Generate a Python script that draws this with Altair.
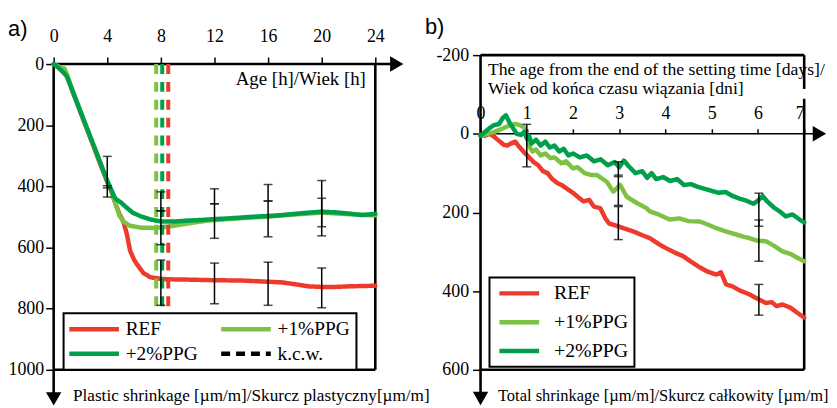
import altair as alt
import pandas as pd

# ---------------- names / colours ----------------
SERIES = ["REF", "+1%PPG", "+2%PPG"]
KCW = "k.c.w."
COLOR_OF = {"REF": "#EE3A2C", "+1%PPG": "#7DC243", "+2%PPG": "#00A04B", KCW: "black"}

# ---------------- panel a : plastic shrinkage vs age [h] ----------------
A_REF_H = [0, 0.5, 1.0, 1.5, 2.0, 2.5, 3.0, 3.5, 4.0, 4.3, 4.6, 4.9, 5.2, 5.46, 5.7, 6.0, 6.2, 6.69, 7.19, 7.9,
           8.5, 10, 12, 14, 16, 17, 18, 19, 20, 21, 22, 23, 24]
A_REF_V = [0, 15, 40, 100, 158, 215, 272, 330, 386, 415, 455, 490, 515, 556, 610, 640, 654, 683, 697, 702,
           704, 705, 707, 708, 712, 714, 720, 727, 729, 729, 727, 726, 725]
A_P1_H = [0, 0.3, 0.55, 0.8, 1.0, 1.5, 2.0, 2.5, 3.0, 3.5, 4.0, 4.3, 4.6, 4.9, 5.2, 5.7, 6.5, 7.5, 8.5, 9.5,
          10.5, 11.5, 13, 14, 16, 18, 20, 22, 24]
A_P1_V = [0, 6, 12, 14, 35, 98, 155, 212, 268, 325, 382, 412, 455, 495, 515, 529, 535, 536, 532, 525,
          518, 512, 507, 504, 499, 492, 486, 491, 495]
A_P2_H = [0, 0.2, 0.5, 0.8, 1.0, 1.5, 2.0, 2.5, 3.0, 3.5, 4.0, 4.3, 4.6, 5.0, 5.4, 5.9, 6.5, 7.2, 8.0, 9.0,
          10, 11, 12, 13, 14, 15, 16, 17, 18, 19, 20, 21, 22, 23, 24]
A_P2_V = [0, 6, 18, 30, 42, 98, 155, 212, 268, 325, 382, 412, 440, 452, 468, 486, 498, 508, 515, 515,
          512, 510, 507, 505, 502, 499, 497, 494, 490, 486, 483, 485, 489, 494, 490]
A_KCW_SERIES = ["+1%PPG", "+2%PPG", "REF"]
A_KCW_H = [7.65, 8.1, 8.55]
A_KCW_END = 795
A_ERR_H = [4, 4, 8, 8, 8, 12, 12, 12, 16, 16, 16, 20, 20, 20]
A_ERR_LO = [302, 398, 418, 480, 641, 408, 457, 651, 394, 448, 648, 381, 439, 667]
A_ERR_HI = [405, 435, 480, 591, 789, 457, 570, 784, 448, 565, 789, 532, 562, 797]
A_XTICKS = [0, 4, 8, 12, 16, 20, 24]
A_YTICKS = [0, 200, 400, 600, 800, 1000]
A_XMAX, A_YMAX = 24, 1000
A_XARROW, A_YARROW = 25.6, 1095

# ---------------- panel b : total shrinkage vs days ----------------
B_REF_D = [0, 0.1, 0.2, 0.3, 0.4, 0.5, 0.58, 0.65, 0.75, 0.85, 0.95, 1.05, 1.15, 1.25, 1.35, 1.45, 1.55, 1.66,
           1.75, 1.85, 2.0, 2.1, 2.23, 2.35, 2.45, 2.59, 2.7, 2.78, 2.9, 3.09, 3.3, 3.5, 3.66, 3.85, 4.0, 4.2,
           4.38, 4.55, 4.75, 4.9, 5.1, 5.2, 5.31, 5.45, 5.6, 5.81, 6.0, 6.17, 6.3, 6.4, 6.53, 6.7, 6.85, 7.0]
B_REF_V = [3, 5, 0, 8, 18, 28, 30, 25, 20, 35, 48, 60, 72, 80, 95, 100, 115, 125,
           130, 138, 150, 160, 172, 168, 185, 189, 215, 228, 232, 240, 248, 258, 265, 280, 290, 302,
           311, 325, 340, 350, 358, 352, 383, 388, 398, 408, 420, 430, 428, 438, 434, 442, 455, 467]
B_P1_D = [0, 0.15, 0.3, 0.45, 0.6, 0.75, 0.85, 0.95, 1.0, 1.05, 1.12, 1.2, 1.3, 1.4, 1.51, 1.6, 1.75, 1.85,
          2.0, 2.1, 2.25, 2.4, 2.52, 2.73, 2.87, 3.02, 3.16, 3.38, 3.59, 3.66, 3.85, 4.09, 4.3, 4.5, 4.74,
          4.9, 5.1, 5.3, 5.53, 5.7, 5.81, 6.0, 6.17, 6.35, 6.53, 6.7, 6.85, 7.0]
B_P1_V = [5, 0, -5, -12, -20, -25, -22, -15, 5, 30, 45, 40, 55, 50, 62, 60, 75, 70,
          88, 85, 100, 105, 105, 122, 147, 130, 160, 176, 189, 197, 205, 218, 215, 222, 223,
          230, 240, 248, 256, 262, 265, 272, 273, 285, 299, 305, 315, 324]
B_P2_D = [0, 0.1, 0.2, 0.29, 0.4, 0.48, 0.55, 0.62, 0.7, 0.78, 0.87, 0.95, 1.0, 1.05, 1.1, 1.2, 1.3, 1.4,
          1.5, 1.6, 1.7, 1.8, 1.9, 2.0, 2.15, 2.3, 2.45, 2.6, 2.75, 2.9, 3.0, 3.1, 3.2, 3.35, 3.5, 3.6,
          3.7, 3.8, 3.95, 4.1, 4.25, 4.4, 4.55, 4.7, 4.85, 5.0, 5.15, 5.3, 5.45, 5.6, 5.75, 5.9, 6.0,
          6.1, 6.2, 6.35, 6.5, 6.6, 6.75, 6.9, 7.0]
B_P2_V = [5, -5, -15, -22, -25, -40, -47, -30, -15, 0, 3, -5, 12, 5, 25, 15, 30, 20,
          35, 30, 45, 38, 55, 50, 60, 55, 70, 65, 80, 72, 85, 68, 82, 100, 95, 112,
          100, 115, 110, 120, 115, 130, 128, 135, 140, 145, 150, 148, 158, 165, 170, 178, 170,
          158, 172, 188, 200, 210, 205, 218, 225]
B_ERR_D = [1.0, 2.98, 2.98, 2.98, 6.02, 6.02, 6.02]
B_ERR_LO = [-24, 71, 105, 185, 151, 219, 383]
B_ERR_HI = [84, 109, 182, 269, 235, 324, 461]
B_XTICKS = [0, 1, 2, 3, 4, 5, 6, 7]
B_YTICKS = [-200, 0, 200, 400, 600]
B_XMAX, B_YMIN, B_YMAX = 7, -200, 600
B_XARROW, B_YARROW = 7.33, 673

# ---------------- layout constants ----------------
H = 317
A_W, B_W = 324, 326
A_YTOP = -29.2          # value at the top edge of panel a's view
SERIF = "Liberation Serif"


def curves(hs, vs, names):
    rows = []
    for h, v, n in zip(hs, vs, names):
        for a, b in zip(h, v):
            rows.append({"x": a, "y": b, "series": n})
    df = pd.DataFrame(rows)
    df["order"] = df.index
    return df


def errs(xs, lo, hi):
    bars = pd.DataFrame({"x": xs, "y": lo, "y2": hi})
    caps = pd.DataFrame({"x": xs + xs, "y": lo + hi})
    return bars, caps


def build_panel(xenc, yenc, color, dash, frame_df, thin_df, curve_df, kcw_df,
                bars_df, caps_df, arrows_df):
    layers = []
    layers.append(alt.Chart(frame_df).mark_rule(color="black", strokeWidth=2.6).encode(
        x=xenc, x2="x2:Q", y=yenc, y2="y2:Q"))
    if thin_df is not None:
        layers.append(alt.Chart(thin_df).mark_rule(color="black", strokeWidth=1.5).encode(
            x=xenc, x2="x2:Q", y=yenc, y2="y2:Q"))
    for s in SERIES:
        enc = dict(x=xenc, y=yenc, color=color, order="order:Q")
        if dash is not None:
            enc["strokeDash"] = dash
        layers.append(alt.Chart(curve_df[curve_df.series == s]).mark_line(
            strokeWidth=4.5, strokeJoin="round", strokeCap="round").encode(**enc))
    if kcw_df is not None:
        layers.append(alt.Chart(kcw_df).mark_rule(strokeWidth=4, strokeDash=[10, 8]).encode(
            x=xenc, y=yenc, y2="y2:Q", color=color))
    layers.append(alt.Chart(bars_df).mark_rule(color="black", strokeWidth=1.5).encode(
        x=xenc, y=yenc, y2="y2:Q"))
    layers.append(alt.Chart(caps_df).mark_tick(color="black", orient="horizontal", size=9,
                                               thickness=1.5).encode(x=xenc, y=yenc))
    for shape, sub in arrows_df.groupby("shape"):
        layers.append(alt.Chart(sub).mark_point(shape=shape, filled=True, color="black",
                                                opacity=1, size=240).encode(x=xenc, y=yenc))
    return alt.layer(*layers)


# ---------------- panel a ----------------
a_curves = curves([A_REF_H, A_P1_H, A_P2_H], [A_REF_V, A_P1_V, A_P2_V], SERIES)
a_kcw = pd.DataFrame({"x": A_KCW_H, "y": [0] * 3, "y2": [A_KCW_END] * 3, "series": A_KCW_SERIES})
a_bars, a_caps = errs(A_ERR_H, A_ERR_LO, A_ERR_HI)
a_frame = pd.DataFrame({
    "x": [0, 0, A_XMAX, 0], "x2": [0, A_XARROW, A_XMAX, A_XMAX],
    "y": [0, 0, 0, A_YMAX], "y2": [A_YARROW, 0, A_YMAX, A_YMAX]})
a_arrows = pd.DataFrame({"x": [A_XARROW, 0], "y": [0, A_YARROW],
                         "shape": ["triangle-right", "triangle-down"]})

a_off = -(0 - A_YTOP) / (A_YMAX - A_YTOP) * H

a_x = alt.X("x:Q", scale=alt.Scale(domain=[0, A_XMAX], nice=False, zero=False),
            axis=alt.Axis(orient="top", values=A_XTICKS, offset=a_off, domain=False, grid=False,
                          tickSize=7, tickWidth=1.5, tickColor="black", labelPadding=12,
                          labelFont=SERIF, labelFontSize=18, labelColor="black", labelOverlap=False,
                          labelFlush=False, format="d", title="Age [h]/Wiek [h]", titleX=314,
                          titleY=21, titleAlign="right", titleBaseline="alphabetic", titleAngle=0,
                          titleFont=SERIF, titleFontSize=19, titleFontWeight="normal",
                          titleColor="black"))
a_y = alt.Y("y:Q", scale=alt.Scale(domain=[A_YTOP, A_YMAX], reverse=True, nice=False, zero=False),
            axis=alt.Axis(orient="left", values=A_YTICKS, domain=False, grid=False, tickSize=8,
                          tickWidth=1.5, tickColor="black", labelPadding=2, labelFont=SERIF,
                          labelFontSize=18, labelColor="black", labelOverlap=False, labelFlush=False,
                          format="d",
                          title="Plastic shrinkage [µm/m]/Skurcz plastyczny[µm/m]",
                          titleX=19, titleY=348, titleAngle=0, titleAlign="left",
                          titleBaseline="alphabetic", titleFont=SERIF, titleFontSize=17.3,
                          titleFontWeight="normal", titleColor="black"))
a_legend = alt.Legend(title=None, orient="none", legendX=10, legendY=260, columns=2,
                      symbolType="M-5,0L5,0", symbolSize=100, symbolStrokeWidth=4.5,
                      symbolOffset=15, labelOffset=22, columnPadding=13, rowPadding=4,
                      padding=6, fillColor="white", strokeColor="black", labelFont=SERIF,
                      labelFontSize=19.5, labelColor="black", labelLimit=300)
# legend fills column by column: REF / +2%PPG  |  +1%PPG / k.c.w.
a_dom = ["REF", "+2%PPG", "+1%PPG", KCW]
a_color = alt.Color("series:N", scale=alt.Scale(domain=a_dom, range=[COLOR_OF[d] for d in a_dom]),
                    legend=a_legend)
a_dash = alt.StrokeDash("series:N",
                        scale=alt.Scale(domain=a_dom, range=[[1, 0], [1, 0], [1, 0], [9, 6]]),
                        legend=a_legend)

panel_a = build_panel(a_x, a_y, a_color, a_dash, a_frame, None, a_curves, a_kcw,
                      a_bars, a_caps, a_arrows).properties(
    width=A_W, height=H,
    title=alt.TitleParams("a)", anchor="start", frame="group", dx=-46, dy=14, offset=0,
                          font="Liberation Sans", fontSize=22, fontWeight="normal", color="black"))

# ---------------- panel b ----------------
b_curves = curves([B_REF_D, B_P1_D, B_P2_D], [B_REF_V, B_P1_V, B_P2_V], SERIES)
b_bars, b_caps = errs(B_ERR_D, B_ERR_LO, B_ERR_HI)
b_frame = pd.DataFrame({
    "x": [0, 0, B_XMAX, B_XMAX, 0], "x2": [0, B_XMAX, B_XMAX, B_XMAX, B_XMAX],
    "y": [B_YMIN, B_YMIN, B_YMIN, -89, B_YMAX], "y2": [B_YARROW, B_YMIN, -114, B_YMAX, B_YMAX]})
b_thin = pd.DataFrame({"x": [0], "x2": [B_XARROW], "y": [0], "y2": [0]})
b_arrows = pd.DataFrame({"x": [B_XARROW, 0], "y": [0, B_YARROW],
                         "shape": ["triangle-right", "triangle-down"]})
b_off = -(0 - B_YMIN) / (B_YMAX - B_YMIN) * H

b_x = alt.X("x:Q", scale=alt.Scale(domain=[0, B_XMAX], nice=False, zero=False),
            axis=alt.Axis(orient="top", values=B_XTICKS, offset=b_off, domain=False, grid=False,
                          tickSize=5, tickWidth=1.5, tickColor="black", labelPadding=6,
                          labelFont=SERIF, labelFontSize=18, labelColor="black", labelOverlap=False,
                          labelFlush=False,
                          labelAlign=alt.condition("datum.value == 7", alt.value("right"),
                                                   alt.value("center")),
                          labelExpr="datum.value == 7 ? '7\u00a0' : datum.label",
                          title=["The age from the end of the setting time [days]/",
                                 "Wiek od końca czasu wiązania [dni]"],
                          titleX=7, titleY=-60, titleAlign="left", titleBaseline="alphabetic",
                          titleAngle=0, titleLineHeight=19, titleFont=SERIF, titleFontSize=17.8,
                          titleFontWeight="normal", titleColor="black"))
b_y = alt.Y("y:Q", scale=alt.Scale(domain=[B_YMIN, B_YMAX], reverse=True, nice=False, zero=False),
            axis=alt.Axis(orient="left", values=B_YTICKS, domain=False, grid=False, tickSize=8,
                          tickWidth=1.5, tickColor="black", labelPadding=4, labelFont=SERIF,
                          labelFontSize=18, labelColor="black", labelOverlap=False, labelFlush=False,
                          labelExpr="'' + datum.value",
                          title="Total shrinkage [µm/m]/Skurcz całkowity [µm/m]",
                          titleX=17, titleY=348, titleAngle=0, titleAlign="left",
                          titleBaseline="alphabetic", titleFont=SERIF, titleFontSize=16.6,
                          titleFontWeight="normal", titleColor="black"))
b_legend = alt.Legend(title=None, orient="none", legendX=9, legendY=224, columns=1,
                      symbolType="M-4,0L4,0", symbolSize=100, symbolStrokeWidth=4.5,
                      symbolOffset=14, labelOffset=25, rowPadding=9, padding=6,
                      fillColor="white", strokeColor="black", labelFont=SERIF,
                      labelFontSize=20, labelColor="black", labelLimit=300)
b_color = alt.Color("series:N", scale=alt.Scale(domain=SERIES, range=[COLOR_OF[s] for s in SERIES]),
                    legend=b_legend)

panel_b = build_panel(b_x, b_y, b_color, None, b_frame, b_thin, b_curves, None,
                      b_bars, b_caps, b_arrows).properties(
    width=B_W, height=H,
    title=alt.TitleParams("b)", anchor="start", frame="group", dx=-56, dy=-7.5, offset=0,
                          font="Liberation Sans", fontSize=22, fontWeight="normal", color="black"))

chart = alt.hconcat(panel_a, panel_b, spacing=106, bounds="flush").resolve_scale(
    color="independent", strokeDash="independent", x="independent", y="independent"
).resolve_legend(color="independent", strokeDash="independent").configure(
    font=SERIF
).configure_axis(labelFont=SERIF, titleFont=SERIF).configure_legend(
    labelFont=SERIF, strokeWidth=2
).configure_view(
    strokeWidth=0
).properties(padding={"left": 0, "top": 6, "right": 0, "bottom": 0}, background="white")

chart.save("out.html", embed_options={"renderer": "svg", "actions": False})
